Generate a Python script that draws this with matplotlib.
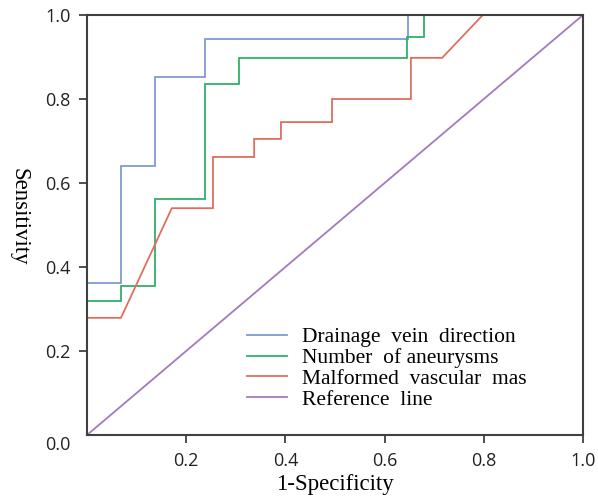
import matplotlib
matplotlib.use("Agg")
import matplotlib.pyplot as plt
import matplotlib.transforms as mtransforms

# ROC curve data (1-Specificity, Sensitivity)
drain_x = [0.0, 0.0, 0.0685, 0.0685, 0.137, 0.137, 0.238, 0.238, 0.647, 0.647]
drain_y = [0.0, 0.362, 0.362, 0.640, 0.640, 0.852, 0.852, 0.943, 0.943, 1.0]

aneu_x = [0.0, 0.0, 0.0685, 0.0685, 0.137, 0.137, 0.238, 0.238, 0.306, 0.306, 0.645, 0.645, 0.679, 0.679]
aneu_y = [0.0, 0.319, 0.319, 0.355, 0.355, 0.562, 0.562, 0.836, 0.836, 0.898, 0.898, 0.948, 0.948, 1.0]

malf_x = [0.0, 0.0, 0.0685, 0.171, 0.254, 0.254, 0.337, 0.337, 0.391, 0.391, 0.494, 0.494, 0.653, 0.653, 0.716, 0.798]
malf_y = [0.0, 0.279, 0.279, 0.540, 0.540, 0.662, 0.662, 0.705, 0.705, 0.745, 0.745, 0.800, 0.800, 0.898, 0.898, 1.0]

ref_x = [0.0, 1.0]
ref_y = [0.0, 1.0]

labels = ["Drainage  vein  direction", "Number  of aneurysms",
          "Malformed  vascular  mas", "Reference  line"]
colors = ["#7f9bd2", "#2fb06a", "#de6f5f", "#a27bbd"]

xticks = [0.2, 0.4, 0.6, 0.8, 1.0]
yticks = [0.0, 0.2, 0.4, 0.6, 0.8, 1.0]

fig = plt.figure(figsize=(5.98, 4.97), dpi=100)
ax = fig.add_axes([87/598, 62/497, 496/598, 420/497])

series = [(drain_x, drain_y), (aneu_x, aneu_y), (malf_x, malf_y), (ref_x, ref_y)]
for (xs, ys), lab, c in zip(series, labels, colors):
    ax.plot(xs, ys, color=c, lw=1.3, label=lab, solid_joinstyle="miter")

ax.set_xlim(0, 1)
ax.set_ylim(0, 1)
ax.set_xticks(xticks)
ax.set_xticklabels([f"{v:.1f}" for v in xticks])
ax.set_yticks(yticks)
ax.set_yticklabels([f"{v:.1f}" for v in yticks])

for sp in ax.spines.values():
    sp.set_color("#404040")
    sp.set_linewidth(1.5)

ax.tick_params(axis="both", direction="out", length=6, width=1.3, color="#404040",
               labelsize=13, labelcolor="#222222", pad=6)
for lab in ax.get_xticklabels() + ax.get_yticklabels():
    lab.set_fontfamily("Open Sans")

# first y tick (0.0): no tick mark, label slightly lower
yt = ax.yaxis.get_major_ticks()[0]
yt.tick1line.set_visible(False)
lab0 = ax.get_yticklabels()[0]
lab0.set_transform(lab0.get_transform() + mtransforms.ScaledTranslation(0, -8/100, fig.dpi_scale_trans))

ax.set_xlabel("1-Specificity", fontfamily="Liberation Serif", fontsize=16.5, labelpad=3)
ax.set_ylabel("Sensitivity", fontfamily="Liberation Serif", fontsize=16.5, rotation=270,
              labelpad=30, va="center")
ax.yaxis.set_label_coords(-0.138, 0.52)

leg = ax.legend(loc="lower left", bbox_to_anchor=(0.305, 0.04), frameon=False,
                prop={"family": "Liberation Serif", "size": 15.5},
                handlelength=1.85, handletextpad=0.7, labelspacing=0.03, borderaxespad=0)

fig.savefig("out.png", dpi=100, facecolor="white")
